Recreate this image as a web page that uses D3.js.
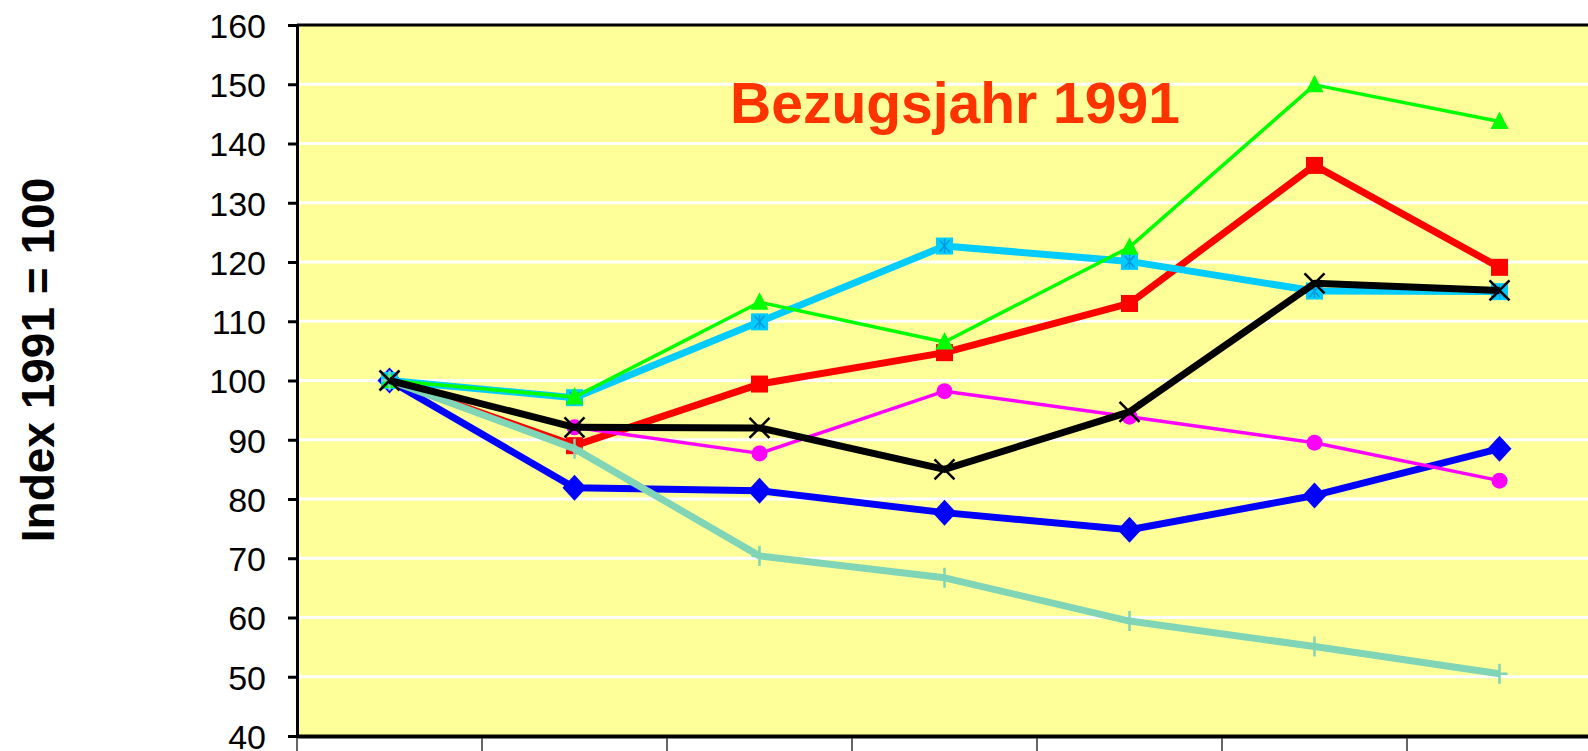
<!DOCTYPE html>
<html>
  <head>
    <meta charset="utf-8">
    <title>Bezugsjahr 1991</title>
    <script src="https://d3js.org/d3.v7.min.js" charset="utf-8"></script>
    <style>
      html, body { margin: 0; padding: 0; background: #fff; overflow: hidden; }
      text { font-family: "Liberation Sans", Arial, sans-serif; }
    </style>
  </head>
  <body>
    <div id="chart"></div>

    <script>
      // categories (labels sit mostly below the visible frame, as in the reference)
      const years = ["1991", "1992", "1993", "1994", "1995", "1996", "1997"];
      const yTicks = [40, 50, 60, 70, 80, 90, 100, 110, 120, 130, 140, 150, 160];

      // index values
      const blueValues    = [100, 81.9, 81.4, 77.7, 74.8, 80.6, 88.5];
      const redValues     = [100, 89.0, 99.4, 104.7, 113.0, 136.3, 119.1];
      const magentaValues = [100, 92.1, 87.7, 98.2, 93.9, 89.5, 83.1];
      const cyanValues    = [100, 97.1, 109.9, 122.7, 120.1, 115.1, 115.0];
      const greenValues   = [100, 97.2, 113.2, 106.5, 122.5, 149.9, 143.7];
      const tealValues    = [100, 88.5, 70.4, 66.7, 59.4, 55.1, 50.5];
      const blackValues   = [100, 92.1, 92.0, 85.0, 94.7, 116.4, 115.2];

      const series = [
        { name: "blue",    values: blueValues,    color: "#0000ff", width: 7,   marker: "diamond" },
        { name: "red",     values: redValues,     color: "#ff0000", width: 7,   marker: "square" },
        { name: "magenta", values: magentaValues, color: "#ff00ff", width: 3.5, marker: "circle" },
        { name: "cyan",    values: cyanValues,    color: "#00ccff", width: 7,   marker: "star" },
        { name: "green",   values: greenValues,   color: "#00ff00", width: 3.5, marker: "triangle" },
        { name: "teal",    values: tealValues,    color: "#7fd5b6", width: 7,   marker: "plus" },
        { name: "black",   values: blackValues,   color: "#000000", width: 7,   marker: "x" },
      ];

      const outerWidth = 1588;
      const outerHeight = 751;
      const margin = { top: 25, left: 297 };
      const width = 1295;   // runs slightly past the right edge, like the reference
      const height = 711;

      const x = d3.scaleBand().domain(years).range([0, width]);
      const y = d3.scaleLinear().domain([40, 160]).range([height, 0]);

      const svg = d3.select("#chart")
        .append("svg")
        .attr("width", outerWidth)
        .attr("height", outerHeight);

      const g = svg.append("g")
        .attr("transform", "translate(" + margin.left + "," + margin.top + ")");

      // plot area
      g.append("rect")
        .attr("width", width)
        .attr("height", height)
        .attr("fill", "#ffff99");

      // white gridlines
      g.append("g")
        .selectAll("line")
        .data(yTicks.filter(t => t > 40 && t < 160))
        .enter().append("line")
        .attr("x1", 0)
        .attr("x2", width)
        .attr("y1", d => y(d))
        .attr("y2", d => y(d))
        .attr("stroke", "#ffffff")
        .attr("stroke-width", 3);

      // top border
      g.append("line")
        .attr("x1", 0).attr("x2", width)
        .attr("y1", 0).attr("y2", 0)
        .attr("stroke", "#000").attr("stroke-width", 3);

      // y axis
      const yAxis = d3.axisLeft(y).tickValues(yTicks).tickSize(9).tickPadding(22);
      const yAxisG = g.append("g").call(yAxis);
      yAxisG.select(".domain").attr("stroke", "#000").attr("stroke-width", 3);
      yAxisG.selectAll(".tick line").attr("stroke", "#000").attr("stroke-width", 3);
      yAxisG.selectAll(".tick text")
        .attr("font-size", 34)
        .attr("font-family", "'Liberation Sans', Arial, sans-serif")
        .attr("fill", "#000")
        .attr("dy", "0.36em");

      // x axis
      const xAxisG = g.append("g")
        .attr("transform", "translate(0," + height + ")")
        .call(d3.axisBottom(x).tickSize(0).tickPadding(17));
      xAxisG.select(".domain").attr("stroke", "#000").attr("stroke-width", 4);
      xAxisG.selectAll(".tick text")
        .attr("font-size", 32)
        .attr("font-family", "'Liberation Sans', Arial, sans-serif")
        .attr("fill", "#000");
      xAxisG.selectAll(".sep")
        .data(years.concat(["end"]))
        .enter().append("line")
        .classed("sep", true)
        .attr("x1", (d, i) => i * x.step())
        .attr("x2", (d, i) => i * x.step())
        .attr("y1", 2)
        .attr("y2", 30)
        .attr("stroke", "#333")
        .attr("stroke-width", 1.5);

      // series
      const line = d3.line()
        .x((d, i) => x(years[i]) + x.bandwidth() / 2)
        .y(d => y(d));

      const drawMarker = (sel, s) => {
        const c = s.color;
        if (s.marker === "square") {
          sel.append("rect").attr("x", -8.5).attr("y", -8.5).attr("width", 17).attr("height", 17).attr("fill", c);
        } else if (s.marker === "diamond") {
          sel.append("path").attr("d", "M0,-13L12,0L0,13L-12,0Z").attr("fill", c);
        } else if (s.marker === "circle") {
          sel.append("circle").attr("r", 8).attr("fill", c);
        } else if (s.marker === "triangle") {
          sel.append("path").attr("d", "M0,-10L9,7.5L-9,7.5Z").attr("fill", c);
        } else if (s.marker === "star") {
          sel.append("rect").attr("x", -8.5).attr("y", -8.5).attr("width", 17).attr("height", 17).attr("fill", c);
          sel.append("path")
            .attr("d", "M-5,-6L5,6M-5,6L5,-6M0,-7L0,7")
            .attr("stroke", "#0099dd").attr("stroke-width", 1.5).attr("fill", "none");
        } else if (s.marker === "plus") {
          sel.append("path")
            .attr("d", "M0,-10L0,10M-8,0L8,0")
            .attr("stroke", c).attr("stroke-width", 2.5).attr("fill", "none");
        } else if (s.marker === "x") {
          sel.append("path")
            .attr("d", "M-10,-10L10,10M-10,10L10,-10")
            .attr("stroke", c).attr("stroke-width", 2.5).attr("fill", "none");
        }
      };

      series.forEach(s => {
        const sg = g.append("g").attr("class", "series " + s.name);
        sg.append("path")
          .datum(s.values)
          .attr("d", line)
          .attr("fill", "none")
          .attr("stroke", s.color)
          .attr("stroke-width", s.width)
          .attr("stroke-linejoin", "round");
        sg.selectAll(".marker")
          .data(s.values)
          .enter().append("g")
          .classed("marker", true)
          .attr("transform", (d, i) => "translate(" + (x(years[i]) + x.bandwidth() / 2) + "," + y(d) + ")")
          .each(function () { drawMarker(d3.select(this), s); });
      });

      // title inside plot
      g.append("text")
        .attr("x", 658)
        .attr("y", 98)
        .attr("text-anchor", "middle")
        .attr("font-size", 57)
        .attr("font-weight", "bold")
        .attr("fill", "#ff3300")
        .text("Bezugsjahr 1991");

      // y axis title
      svg.append("text")
        .attr("transform", "translate(54,360) rotate(-90)")
        .attr("text-anchor", "middle")
        .attr("font-size", 46)
        .attr("font-weight", "bold")
        .attr("fill", "#000")
        .text("Index 1991 = 100");
    </script>
  </body>
</html>
